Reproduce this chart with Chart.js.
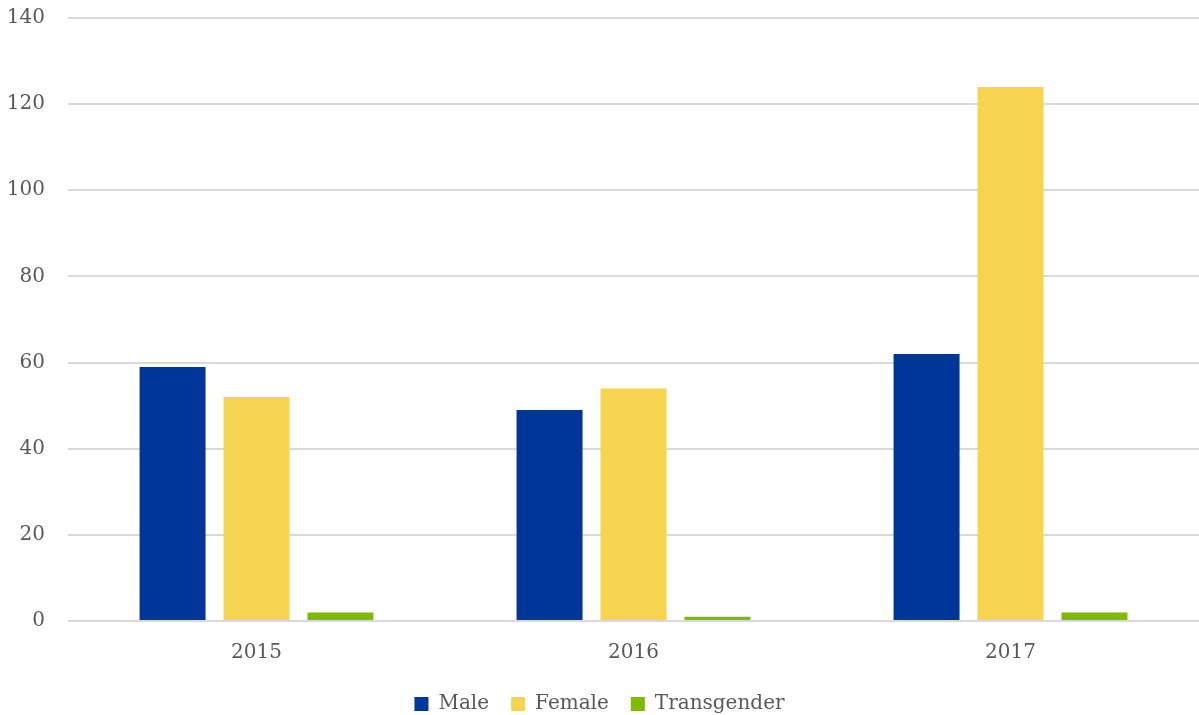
<!DOCTYPE html>
<html>
<head>
<meta charset="utf-8">
<script src="https://cdn.jsdelivr.net/npm/chart.js@4/dist/chart.umd.min.js"></script>
<style>
  html, body { margin: 0; padding: 0; background: #fff; }
  #wrap { width: 1199px; height: 715px; }
</style>
</head>
<body>
<div id="wrap"><canvas id="chart"></canvas></div>
<script>
// Data
const years = ["2015", "2016", "2017"];
const male = [59, 49, 62];
const female = [52, 54, 124];
const transgender = [2, 1, 2];
const yTicks = [0, 20, 40, 60, 80, 100, 120, 140];

const textColor = '#595959';
const fontFamily = "'DejaVu Serif', 'Liberation Serif', serif";

const ctx = document.getElementById('chart').getContext('2d');
new Chart(ctx, {
    type: 'bar',
    data: {
        labels: years,
        datasets: [
            { label: 'Male', data: male, backgroundColor: '#003698' },
            { label: 'Female', data: female, backgroundColor: '#F5D44F' },
            { label: 'Transgender', data: transgender, backgroundColor: '#7FBA00' }
        ]
    },
    options: {
        responsive: true,
        maintainAspectRatio: false,
        animation: false,
        datasets: {
            bar: { categoryPercentage: 0.668, barPercentage: 0.786 }
        },
        layout: { padding: { top: 18, right: 0, left: 0, bottom: -9 } },
        plugins: {
            legend: {
                position: 'bottom',
                labels: {
                    color: textColor,
                    font: { family: fontFamily, size: 20 },
                    boxWidth: 14,
                    boxHeight: 14,
                    padding: 22
                }
            },
            tooltip: { enabled: false }
        },
        scales: {
            x: {
                afterFit: scale => { scale.height -= 5; },
                grid: { display: false },
                border: { display: false },
                ticks: { color: textColor, font: { family: fontFamily, size: 20 }, padding: 12 }
            },
            y: {
                min: 0,
                max: 140,
                afterFit: scale => {
                    scale.width = 68;
                    scale.paddingTop = 0;
                    scale.paddingBottom = 0;
                },
                afterBuildTicks: scale => { scale.ticks = yTicks.map(v => ({ value: v })); },
                grid: { color: '#d9d9d9', lineWidth: 2, drawTicks: false },
                border: { display: false },
                ticks: { color: textColor, font: { family: fontFamily, size: 20 }, padding: 23 }
            }
        }
    }
});
</script>
</body>
</html>
